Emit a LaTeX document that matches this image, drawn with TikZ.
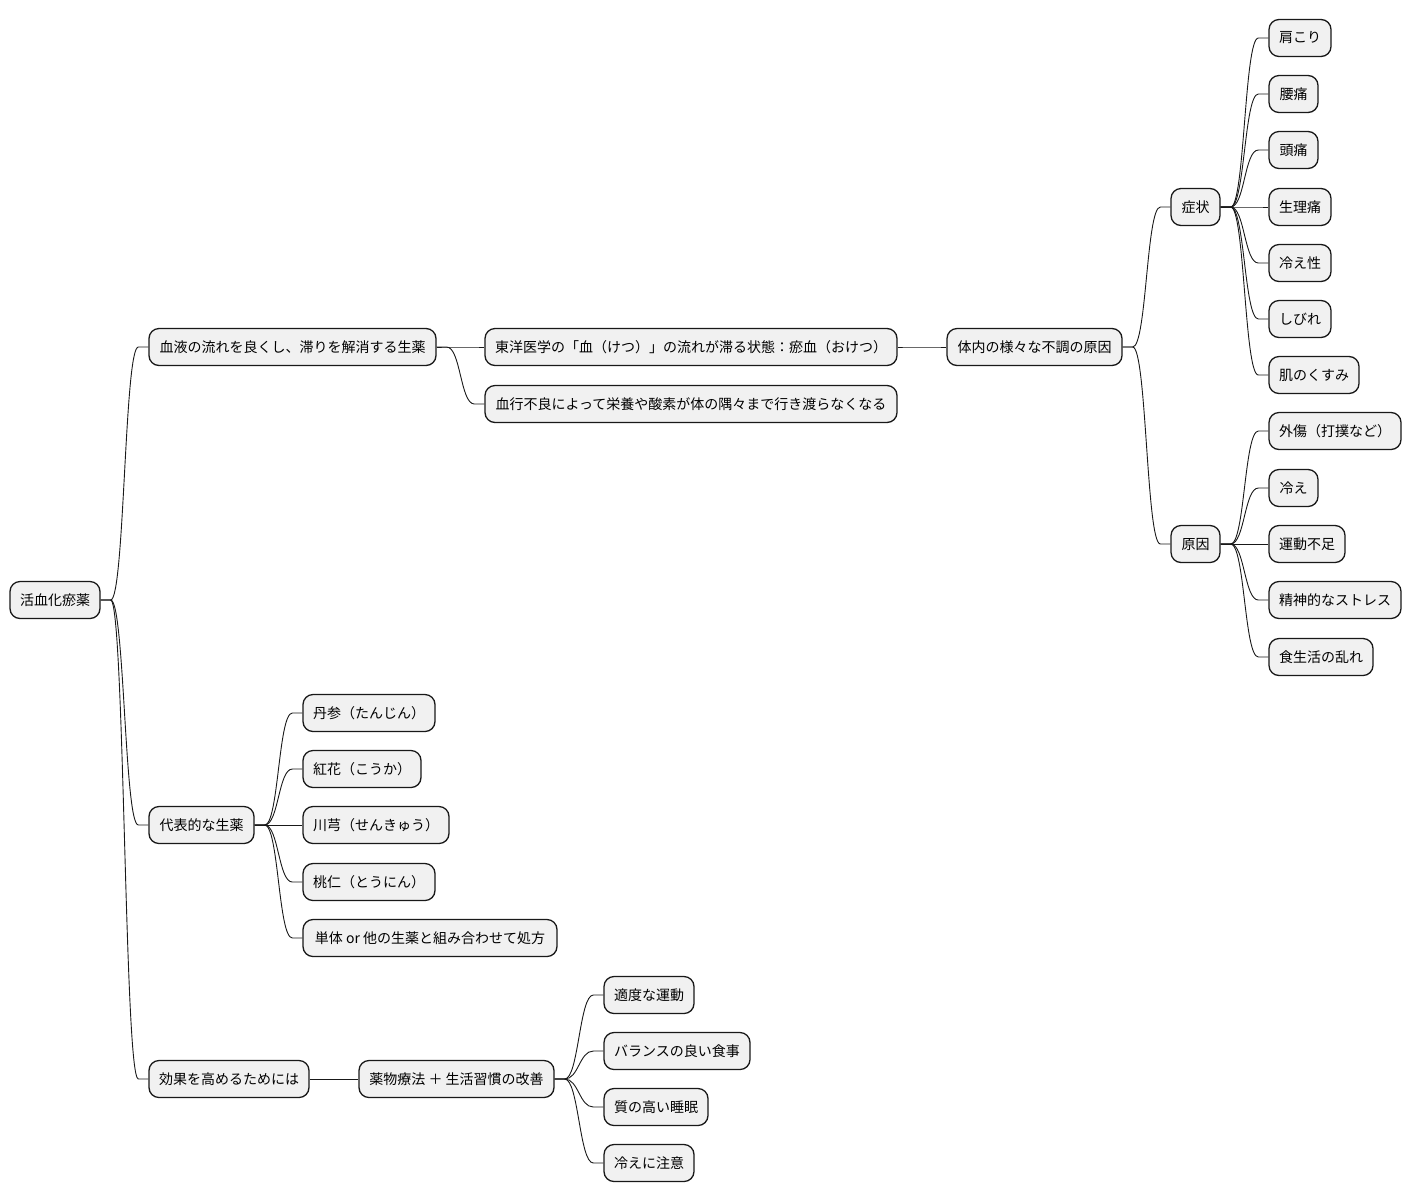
\documentclass[tikz,border=0pt]{standalone}
\usepackage{fontspec}
\setmainfont{Noto Sans CJK JP}
\tikzset{
  mmbox/.style={draw=black!90, fill=black!5.5, line width=1.3pt, rounded corners=10pt,
    minimum height=37pt, inner xsep=0pt, inner ysep=0pt, font=\fontsize{14}{16}\selectfont, text=black},
  mmline/.style={draw=black!90, line width=0.9pt}
}
\newcommand\mm[5]{\node[mmbox, minimum width={#3-#2}] (#1) at ({(#2+#3)/2},#4) {#5};}
\newcommand\mmedge[2]{\draw[mmline] (#1.east) -- ++(10pt,0) to[out=0,in=180,distance=14pt] ([xshift=-10pt]#2.west) -- (#2.west);}
\begin{document}
\begin{tikzpicture}[x=1pt,y=-1pt]
\useasboundingbox (0,0) rectangle (1412,1203);
\mm{root}{10}{100}{600}{活血化瘀薬}
\mm{a}{149}{436}{347}{血液の流れを良くし、滞りを解消する生薬}
\mm{b}{149}{254}{825}{代表的な生薬}
\mm{c}{149}{309}{1079}{効果を高めるためには}
\mm{a1}{485}{897}{347}{東洋医学の「血（けつ）」の流れが滞る状態：瘀血（おけつ）}
\mm{a2}{485}{897}{404}{血行不良によって栄養や酸素が体の隅々まで行き渡らなくなる}
\mm{a11}{947}{1122}{347}{体内の様々な不調の原因}
\mm{s}{1171}{1220}{207}{症状}
\mm{g}{1171}{1220}{544}{原因}
\mm{s1}{1269}{1331}{38}{肩こり}
\mm{s2}{1269}{1318}{94}{腰痛}
\mm{s3}{1269}{1318}{150}{頭痛}
\mm{s4}{1269}{1331}{207}{生理痛}
\mm{s5}{1269}{1331}{263}{冷え性}
\mm{s6}{1269}{1331}{319}{しびれ}
\mm{s7}{1269}{1359}{375}{肌のくすみ}
\mm{g1}{1269}{1401}{431}{外傷（打撲など）}
\mm{g2}{1269}{1318}{488}{冷え}
\mm{g3}{1269}{1345}{544}{運動不足}
\mm{g4}{1269}{1401}{600}{精神的なストレス}
\mm{g5}{1269}{1373}{657}{食生活の乱れ}
\mm{b1}{303}{435}{713}{丹参（たんじん）}
\mm{b2}{303}{421}{769}{紅花（こうか）}
\mm{b3}{303}{449}{825}{川芎（せんきゅう）}
\mm{b4}{303}{435}{882}{桃仁（とうにん）}
\mm{b5}{303}{557}{938}{単体 or 他の生薬と組み合わせて処方}
\mm{c1}{359}{554}{1079}{薬物療法 ＋ 生活習慣の改善}
\mm{c11}{604}{694}{995}{適度な運動}
\mm{c12}{604}{750}{1051}{バランスの良い食事}
\mm{c13}{604}{708}{1107}{質の高い睡眠}
\mm{c14}{604}{694}{1163}{冷えに注意}
\mmedge{root}{a}
\mmedge{root}{b}
\mmedge{root}{c}
\mmedge{a}{a1}
\mmedge{a}{a2}
\mmedge{a1}{a11}
\mmedge{a11}{s}
\mmedge{a11}{g}
\mmedge{s}{s1}
\mmedge{s}{s2}
\mmedge{s}{s3}
\mmedge{s}{s4}
\mmedge{s}{s5}
\mmedge{s}{s6}
\mmedge{s}{s7}
\mmedge{g}{g1}
\mmedge{g}{g2}
\mmedge{g}{g3}
\mmedge{g}{g4}
\mmedge{g}{g5}
\mmedge{b}{b1}
\mmedge{b}{b2}
\mmedge{b}{b3}
\mmedge{b}{b4}
\mmedge{b}{b5}
\mmedge{c}{c1}
\mmedge{c1}{c11}
\mmedge{c1}{c12}
\mmedge{c1}{c13}
\mmedge{c1}{c14}
\end{tikzpicture}
\end{document}
